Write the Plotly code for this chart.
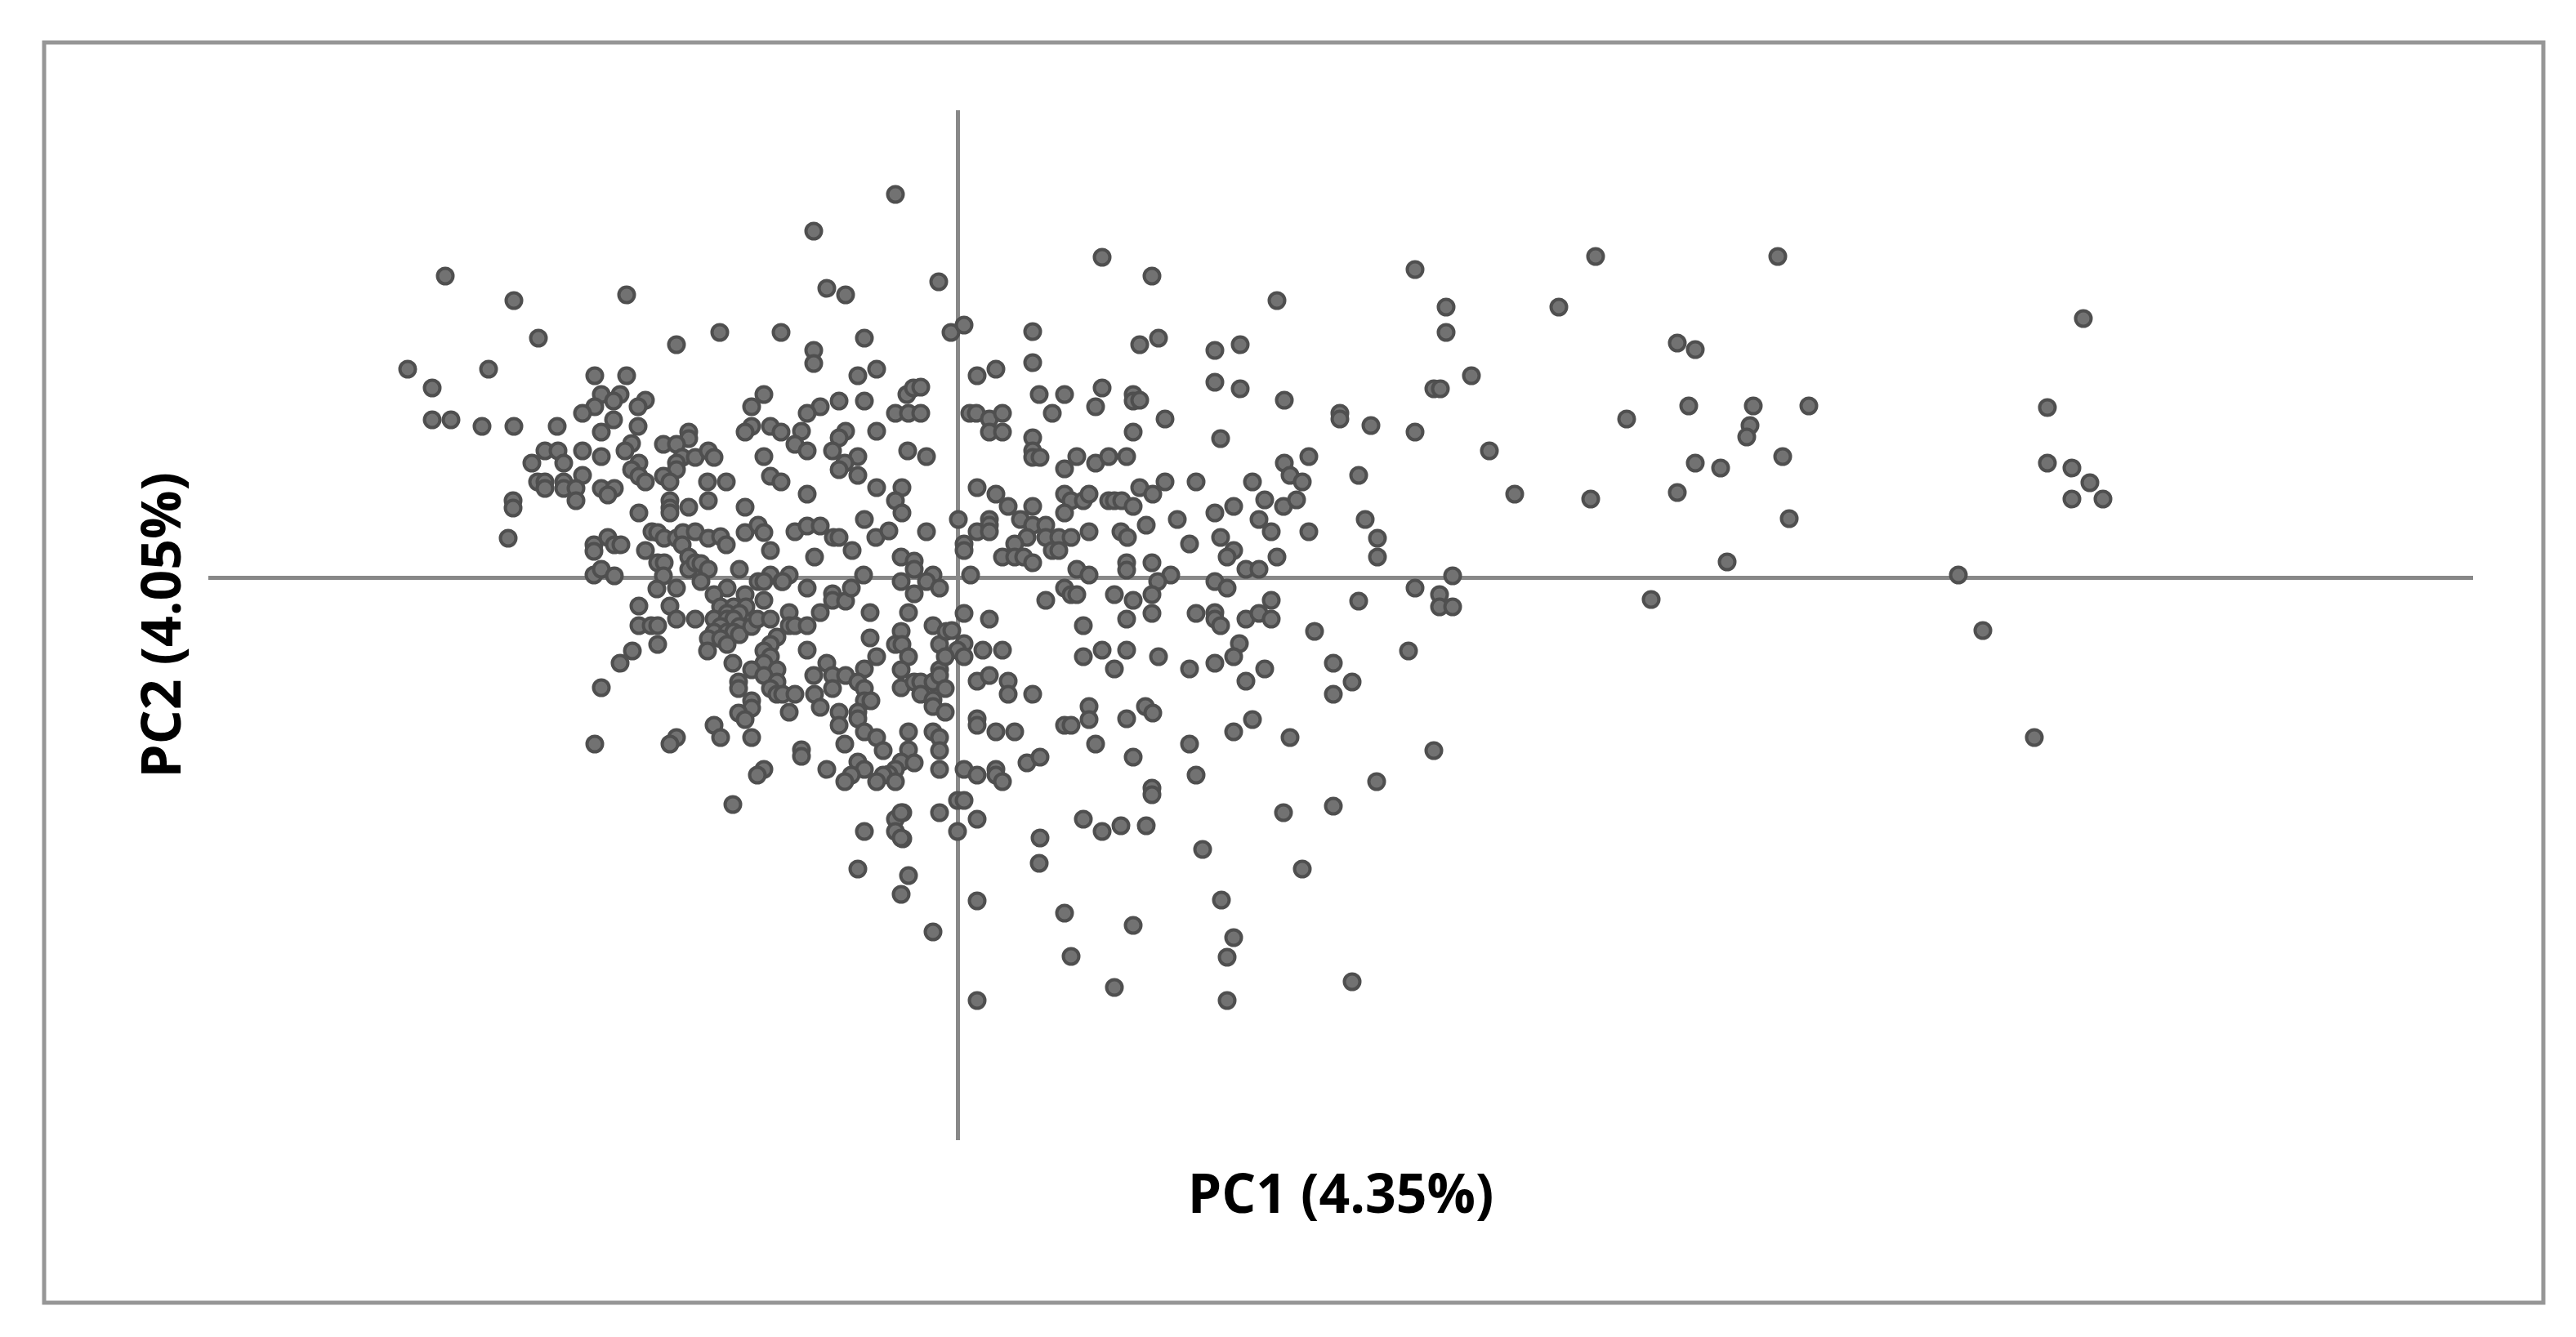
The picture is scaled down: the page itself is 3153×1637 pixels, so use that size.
import plotly.graph_objects as go

a_x = [-627,-543,-405,-513,-344,-291,-216,-673,-574,-643,-444,-405,-436,-413,-421,-444,-459,-382,-391,-421,-391,-436,-643,-620,-582,-543,-490,-237,-252,-252,-260,-229,-216,-329]
a_y = [369,339,346,293,285,300,300,255,255,232,247,247,224,224,216,209,201,217,209,193,185,178,193,193,185,185,185,224,209,185,178,185,178,178]
b_x = [-329,-360,-344,-399,-407,-505,-489,-459,-436,-482,-521,-390,-399,-390,-382,-337,-321,-305,-298,-344,-344,-360,-352,-306,-283,-237,-229,-216,-459,-514,-505,-505,-482,-482,-467,-467,-436,-420,-428,-544,-544,-352,-352,-352,-329,-305,-260,-390]
b_y = [170,163,163,164,155,155,155,155,148,140,140,140,132,124,117,147,147,155,147,140,132,124,117,117,117,148,124,117,125,117,117,109,117,109,109,94,109,109,101,94,85,94,85,79,86,94,86,79]
c_x = [-550,-374,-367,-359,-344,-336,-321,-305,-290,-283,-260,-244,-237,-229,-337,-329,-382,-367,-359,-360,-368,-344,-329,-321,-314,-305,-314,-267,-445,-445,-428,-420,-412,-445,-436,-420,-282,-298,-260,-237,-244,-229,-215,-390,-352,-344,-321,-390,-375,-367,-367,-398,-413,-436]
c_y = [48,56,55,48,48,55,56,48,50,40,55,64,55,33,40,25,33,18,18,2,-14,-13,10,18,17,10,-5,10,40,32,49,40,40,3,10,2,-13,-21,-21,-28,-5,3,-5,-35,-35,-51,-51,-59,-59,-59,-82,-90,-105,-135]
d_x = [-290,-274,-259,-282,-267,-298,-282,-274,-290,-267,-298,-282,-274,-305,-290,-267,-282,-306,-252,-245,-229]
d_y = [-36,-36,-36,-44,-44,-51,-51,-51,-60,-60,-67,-67,-67,-75,-75,-70,-82,-90,-60,-51,-51]
e_x = [-275,-221,-229,-237,-229,-237,-252,-221,-237,-268,-268,-221,-229,-221,-214,-199,-252,-252,-268,-260,-206,-298,-290,-252,-344,-352,-444,-191,-191,-237,-245,-160,-275]
e_y = [-105,-73,-82,-90,-97,-105,-113,-113,-120,-128,-136,-128,-136,-143,-143,-143,-151,-160,-166,-174,-165,-181,-196,-196,-196,-204,-204,-211,-219,-235,-242,-235,-278]
f_x = [-184,-206,-206,-199,-184,-168,-153,-153,-137,-130,-115,-184,-206,-214,-237,-175,-129,-152,-145,-199,-184,-168,-100,-84,-38,-114,-69,-53,-53,-69,-53,-60,-107,-30,-38,-22,-30,-69,-107,-76,-68,-60,-99,-22,-14,-160,-176,-153,-137,-114,-122,-114,-153,-175,-168,-114,-106,-145,-122,-122,-145,-114,-99,-91,-138]
f_y = [-89,-43,-59,-59,-59,-43,-20,-28,-29,-13,3,-13,3,-5,-5,25,33,49,49,56,63,63,49,57,56,71,25,20,10,-5,-20,-43,-43,3,-5,-13,-59,-66,-74,-82,-82,-97,-97,-82,-66,-105,-120,-120,-120,-112,-128,-136,-136,-143,-159,-151,-151,-165,-165,-173,-181,-189,-196,-212,-204]
g_x = [-69,-69,-53,-45,-45,-30,-22,-22,-30,-30,-15,-60,-30,-22,-22,-60,-69,-53,-76,-84,-91,-99,-76,-22,-122,-114,-130,-138]
g_y = [-113,-135,-128,-128,-143,-128,-113,-120,-150,-158,-165,-189,-189,-196,-212,-211,-226,-227,-235,-241,-242,-250,-250,-235,-226,-235,-242,-250]
h_x = [-114,-176,-176,-99,-122,-145,-114,-168,-184,-191,-199,-184,-137,-145,-153,-99,-122,-138,-145,-122,-99,-68,-76,-68,-61,-38,-62,-54,-45,-76,-60,-45,-8,-184,1]
h_y = [293,278,262,255,247,216,216,209,201,179,163,155,179,171,155,179,148,140,132,125,110,110,94,79,155,148,224,232,233,201,201,201,300,102,71]
i_x = [-76,-176,-160,-137,-23,177,8]
i_y = [469,424,354,346,362,392,309]
j_x = [92,92,24,47,100,131,116,177,169,223,246,315,346,315,346,400,215,215,223,254,215,322,15,23,39,55,39,55,92,92,92,101,131,146,169,185,207]
j_y = [301,263,247,255,224,224,201,232,209,285,293,278,285,239,231,217,224,216,217,194,178,170,201,201,194,201,178,178,171,155,147,147,133,148,140,148,148]
k_x = [24,47,62,92,77,131,139,154,161,131,185,192,201,215,223,239,254,292,361,400,407,422,430,376,338,315,399,415,269,369,384,430,322,284,338,330,391,353,369,231,161,200,208,207,207,238,261,245,315,330,146,161,24,39,39,39,8,8,92,108,85,70,108,124,139,116,124,55,70,81,92,16]
k_y = [110,102,87,87,71,102,94,94,102,79,94,94,94,87,110,102,117,117,117,140,125,117,148,95,87,79,87,95,71,71,56,56,49,41,33,25,25,10,10,64,56,56,49,18,9,18,3,-5,-5,-13,10,3,56,71,64,56,41,33,64,64,49,41,49,49,49,33,33,25,25,25,18,3]
l_x = [-7,8,39,8,0,8,31,55,-15,-15,24,39,62,62,92,24,24,47,70,8,24,47,47,55,85,101,0,8,-22,-67,24,0,-67,101]
l_y = [-65,-44,-51,-81,-89,-97,-89,-89,-97,-136,-127,-120,-127,-143,-143,-173,-181,-189,-189,-235,-242,-235,-242,-250,-227,-220,-273,-273,-288,-288,-296,-311,-320,-319]
m_x = [108,131,139,146,192,215,238,238,207,154,292,315,315,322,353,369,384,384,437,345,338,315,284,376,353,154,177,207,246,192,161,161,207,230,239,131,139,169,215,284,361,338,407,292,238,238,399,154,177,200,231,300]
m_y = [-28,-13,-21,-21,-21,-28,-21,-44,-51,-59,-44,-43,-51,-59,-51,-44,-28,-51,-66,-81,-97,-105,-112,-112,-127,-97,-89,-89,-97,-112,-158,-174,-173,-158,-166,-181,-181,-204,-220,-204,-174,-189,-196,-242,-258,-266,-288,-296,-311,-304,-304,-333]
n_x = [-114,-76,-69,-76,-69,-122,-60,-69,24,-30,24,100,131,215,139,192]
n_y = [-311,-296,-288,-311,-319,-357,-365,-388,-396,-434,-518,-350,-411,-426,-464,-502]
o_x = [238,391,560,598,598,736,468,468,506,583,591,629,560,651,491,682,499,514,514,491,606,560,590,590,606,460,483,460,552,583,513,460,422,323,338,330,483,330]
o_y = [369,339,377,331,300,331,201,194,186,231,231,247,178,155,125,102,71,48,25,-29,2,-13,-21,-36,-36,-105,-128,-143,-90,-212,-250,-280,-357,-395,-441,-465,-495,-518]
p_x = [1378,1334,1334,1364,1386,1364,1402,1225,1255,1318,1004,781,881,903,895,974,1042,819,970,966,1010,903,934,881,775,1018,942,849]
p_y = [317,208,140,134,116,96,96,3,-65,-196,393,393,287,279,210,210,210,194,186,172,148,140,134,104,96,72,19,-27]

groups_x = [a_x,b_x,c_x,d_x,e_x,f_x,g_x,h_x,i_x,j_x,k_x,l_x,m_x,n_x,o_x,p_x]
groups_y = [a_y,b_y,c_y,d_y,e_y,f_y,g_y,h_y,i_y,j_y,k_y,l_y,m_y,n_y,o_y,p_y]
for gx, gy in zip(groups_x, groups_y):
    assert len(gx) == len(gy), (len(gx), len(gy))
pc1 = [v for g in groups_x for v in g]
pc2 = [v for g in groups_y for v in g]

x_title = "PC1 (4.35%)"
y_title = "PC2 (4.05%)"

# The page adds an 8 px body margin, so the figure is 16 px smaller than the window.
W, H = 3137, 1621
L, R, T, B = 247, 3019, 127, 1388
pw, ph = R - L, B - T

fig = go.Figure(go.Scatter(
    x=pc1, y=pc2, mode="markers",
    marker=dict(size=19, color="#727272", line=dict(color="#4f4f4f", width=4)),
    showlegend=False, cliponaxis=False,
))

title_font = dict(family="Open Sans", size=66, color="#000000", weight="bold")
axis_common = dict(showgrid=False, showticklabels=False, ticks="", showline=False,
                   zeroline=True, zerolinecolor="#888888", zerolinewidth=5, automargin=False)
fig.update_xaxes(range=[-917, 1855], title=dict(text=x_title, font=title_font, standoff=42), **axis_common)
fig.update_yaxes(range=[-689, 572], title=dict(text=y_title, font=title_font, standoff=10), **axis_common)
fig.update_layout(
    width=W, height=H, autosize=False,
    margin=dict(l=L, r=W - R, t=T, b=H - B, pad=0),
    paper_bgcolor="white", plot_bgcolor="white",
    shapes=[dict(type="rect", xref="paper", yref="paper", layer="below",
                 x0=(46 - L) / pw, x1=(3105 - L) / pw,
                 y0=(B - 1587) / ph, y1=(B - 44) / ph,
                 line=dict(color="#969696", width=5), fillcolor="rgba(0,0,0,0)")],
)
fig.write_html("out.html")
